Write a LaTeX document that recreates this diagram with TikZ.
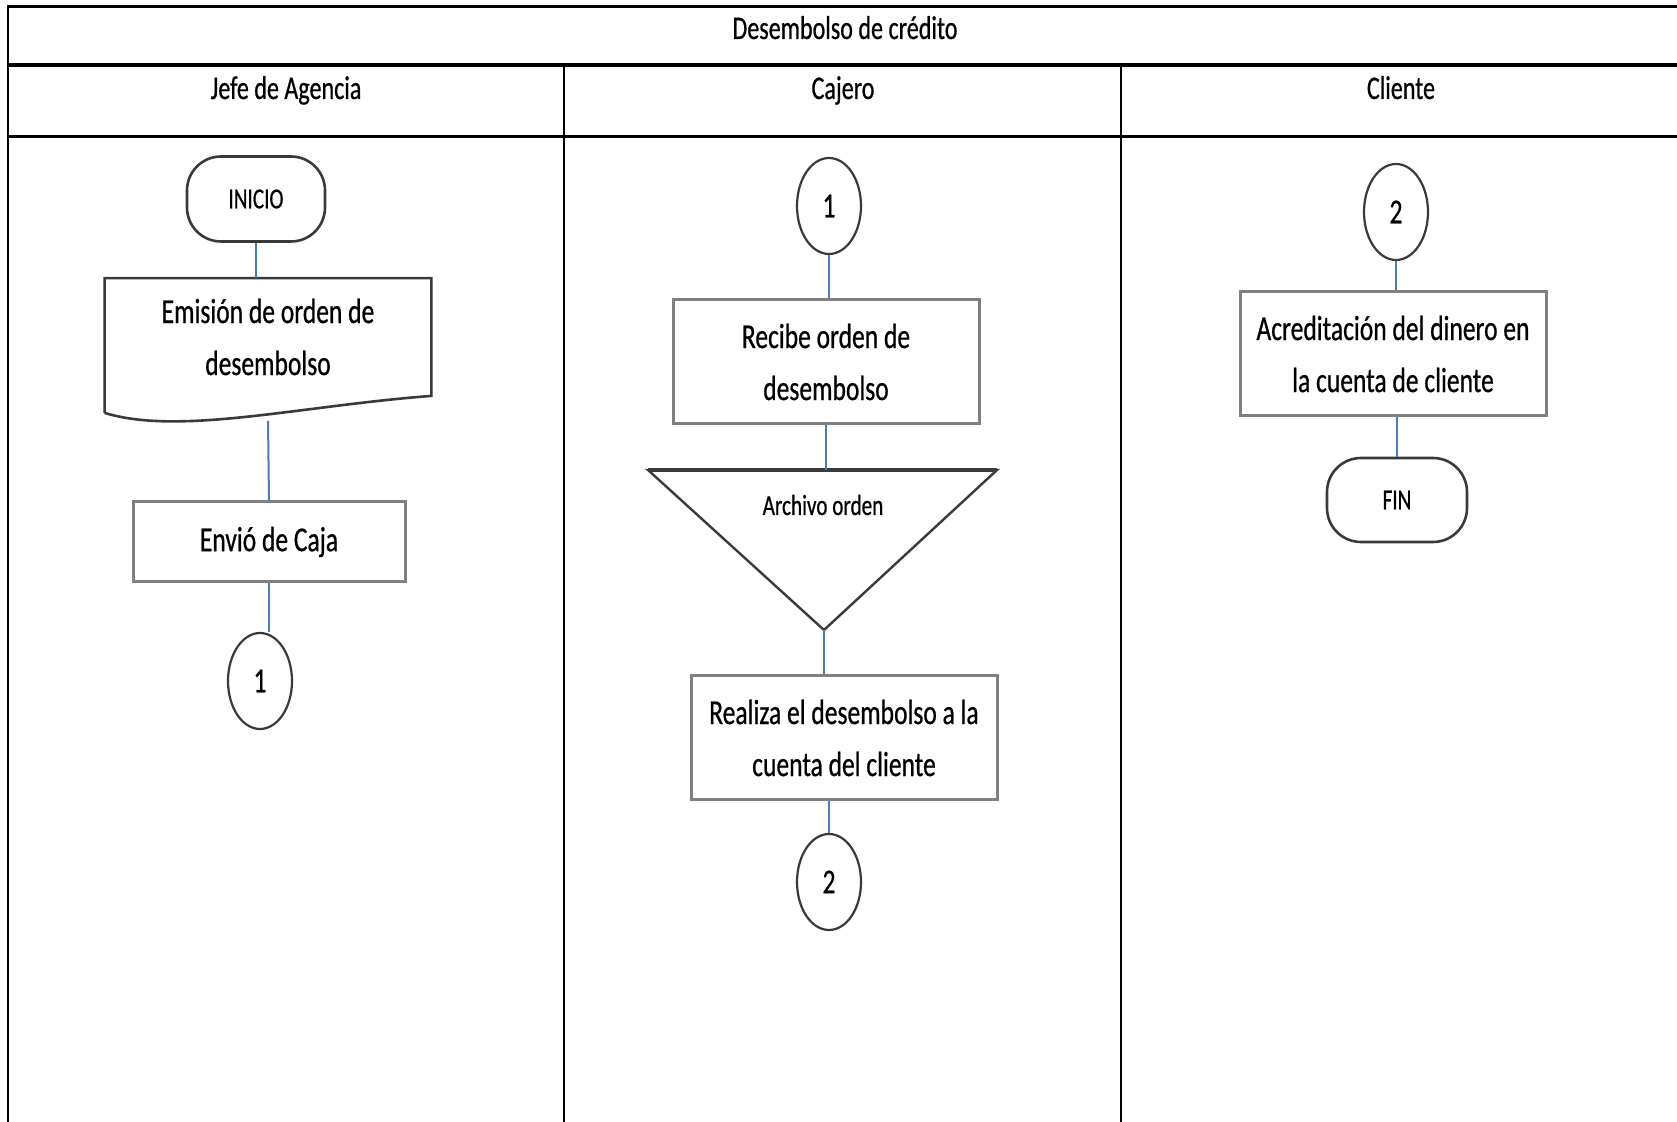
\documentclass[tikz,border=0pt]{standalone}
\usepackage{fontspec}
\setmainfont{Carlito}[FakeStretch=0.73,FakeBold=0.6]
\usetikzlibrary{shapes.geometric,calc}
\definecolor{connblue}{HTML}{4A7EBB}
\definecolor{boxgray}{HTML}{808080}
\definecolor{darkline}{HTML}{3A3A3A}
\newcommand\myBody{\fontsize{17.5}{26}\selectfont}
\newcommand\myHead{\fontsize{16.5}{20}\selectfont}
\newcommand\mySmall{\fontsize{14.5}{18}\selectfont}
\begin{document}
\begin{tikzpicture}[x=0.5pt,y=-0.5pt,
  hline/.style={line width=1.6pt,black},
  vline/.style={line width=1pt,black},
  procbox/.style={draw=boxgray,line width=1.5pt,rectangle,inner sep=0pt,align=center,font=\myBody,minimum width=153pt,minimum height=62pt},
  term/.style={draw=darkline,line width=1.3pt,rectangle,rounded corners=17pt,inner sep=0pt,font=\mySmall,minimum width=69pt,minimum height=42.5pt},
  conncirc/.style={draw=darkline,line width=1.1pt,ellipse,inner sep=0pt,font=\myBody,minimum width=32pt,minimum height=48pt},
  conn/.style={draw=connblue,line width=1pt},
  headtext/.style={anchor=base,font=\myHead,inner sep=0pt}]
\useasboundingbox (0,0) rectangle (1677,1122);
% table
\draw[vline] (7.5,5) -- (7.5,1122);
\draw[hline] (7.5,6.5) -- (1677,6.5);
\draw[hline] (7.5,65) -- (1677,65);
\draw[hline] (7.5,136.5) -- (1677,136.5);
\draw[vline] (564,65) -- (564,1122);
\draw[vline] (1121,65) -- (1121,1122);
\node[headtext] (title) at (845,39) {Desembolso de crédito};
\node[headtext] (h1) at (286,99) {Jefe de Agencia};
\node[headtext] (h2) at (843,99) {Cajero};
\node[headtext] (h3) at (1401,99) {Cliente};
% Jefe de Agencia
\node[term] (inicio) at (256,199) {INICIO};
\node[draw=none,inner sep=0pt,align=center,font=\myBody,minimum width=163pt,minimum height=58.5pt] (emis) at (268,337) {Emisión de orden de\\desembolso};
\draw[draw=darkline,line width=1.3pt] ($(emis.south west)+(0,17)$) -- (emis.north west) -- (emis.north east) -- (emis.south east)
  .. controls ($(emis.south west)+(195,10)$) and ($(emis.south west)+(75,40)$) .. ($(emis.south west)+(0,17)$);
\node[procbox,minimum width=136pt,minimum height=40pt] (envio) at (269,542) {Envió de Caja};
\node[conncirc] (c1a) at (260,681) {1};
\draw[conn] (inicio.south) -- (inicio.south |- emis.north);
\draw[conn] ($(emis.south)+(0,25)$) -- (envio.north);
\draw[conn] (envio.south) -- (envio.south |- c1a.north);
% Cajero
\node[conncirc] (c1b) at (829,206) {1};
\node[procbox] (recibe) at (826,362) {Recibe orden de\\desembolso};
\node[coordinate] (tritop) at (825,470) {};
\node[coordinate] (triapex) at (824,630) {};
\draw[draw=darkline,line width=1.2pt,line join=miter] ($(tritop)+(-177,0)$) -- ($(tritop)+(172,0)$) -- (triapex) -- cycle;
\draw[draw=darkline,line width=2pt] ($(tritop)+(-177,0)$) -- ($(tritop)+(172,0)$);
\node[font=\mySmall,inner sep=0pt] (archivo) at (823,505) {Archivo orden};
\node[procbox] (realiza) at (844,738) {Realiza el desembolso a la\\cuenta del cliente};
\node[conncirc] (c2b) at (829,882) {2};
\draw[conn] (c1b.south) -- (c1b.south |- recibe.north);
\draw[conn] (recibe.south) -- (recibe.south |- tritop);
\draw[conn] (triapex) -- (triapex |- realiza.north);
\draw[conn] (realiza.south -| c2b) -- (c2b.north);
% Cliente
\node[conncirc] (c2c) at (1396,212) {2};
\node[procbox] (acred) at (1393,354) {Acreditación del dinero en\\la cuenta de cliente};
\node[term,minimum width=70pt,minimum height=42pt] (fin) at (1397,500) {FIN};
\draw[conn] (c2c.south) -- (c2c.south |- acred.north);
\draw[conn] (acred.south -| fin) -- (fin.north);
\end{tikzpicture}
\end{document}
